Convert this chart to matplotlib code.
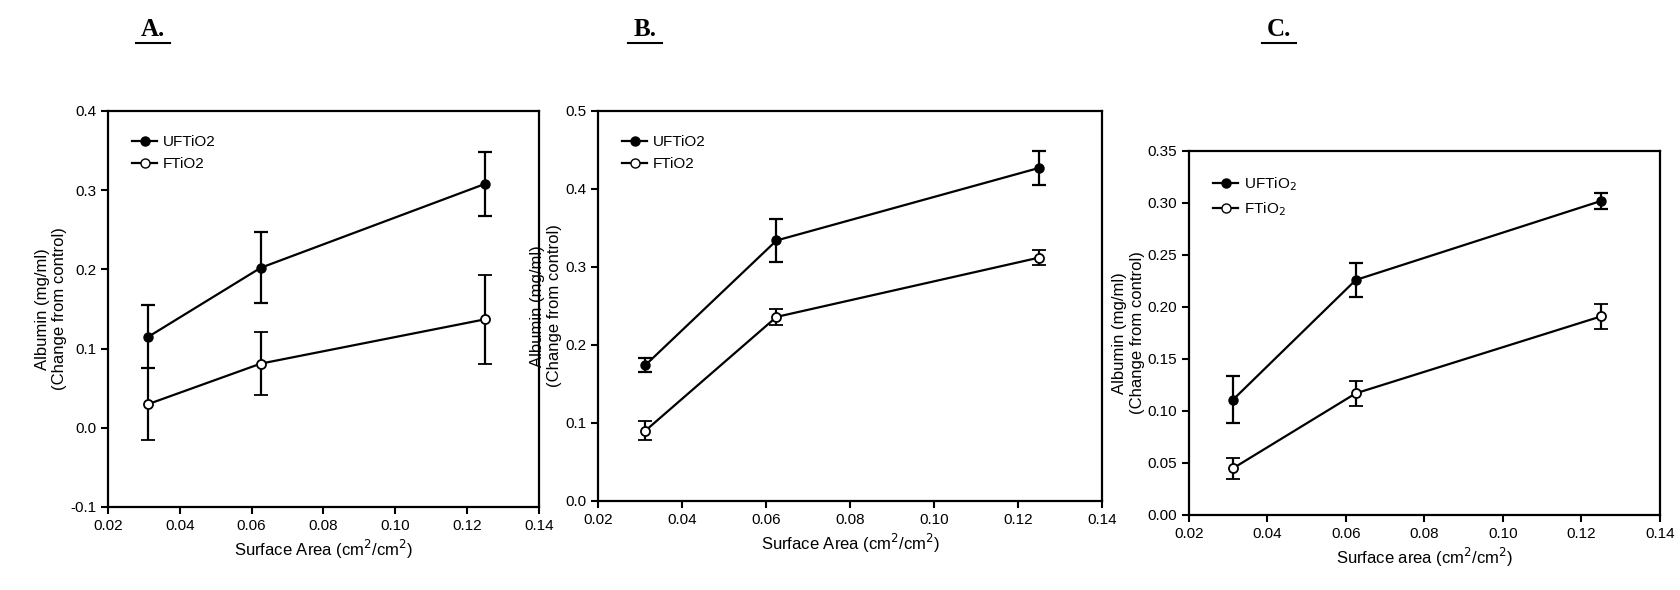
import matplotlib
matplotlib.use("Agg")
import matplotlib.pyplot as plt
from matplotlib.lines import Line2D

plt.rcParams['font.family'] = ['Liberation Sans Narrow', 'Liberation Sans', 'DejaVu Sans']

x = [0.03125, 0.0625, 0.125]
a_uf = [0.115, 0.202, 0.308]; a_uf_err = [0.040, 0.045, 0.040]
a_f = [0.030, 0.081, 0.137]; a_f_err = [0.046, 0.040, 0.056]
b_uf = [0.174, 0.334, 0.427]; b_uf_err = [0.009, 0.028, 0.022]
b_f = [0.090, 0.236, 0.312]; b_f_err = [0.012, 0.010, 0.010]
c_uf = [0.111, 0.226, 0.302]; c_uf_err = [0.023, 0.016, 0.008]
c_f = [0.045, 0.117, 0.191]; c_f_err = [0.010, 0.012, 0.012]

W, H = 1681, 590
fig = plt.figure(figsize=(W/100, H/100), dpi=100)

def ax_at(x0, y0, x1, y1):
    return fig.add_axes([x0/W, 1-y1/H, (x1-x0)/W, (y1-y0)/H])

panels = [
    dict(box=(108, 111, 539, 507), uf=a_uf, ufe=a_uf_err, f=a_f, fe=a_f_err,
         ylim=(-0.1, 0.4), yt=[-0.1, 0, 0.1, 0.2, 0.3, 0.4], yfmt='%.1f',
         labs=['UFTiO2', 'FTiO2'], xl='Surface Area (cm$^2$/cm$^2$)', title='A.', tx=153),
    dict(box=(598, 111, 1102, 501), uf=b_uf, ufe=b_uf_err, f=b_f, fe=b_f_err,
         ylim=(0, 0.5), yt=[0, 0.1, 0.2, 0.3, 0.4, 0.5], yfmt='%.1f',
         labs=['UFTiO2', 'FTiO2'], xl='Surface Area (cm$^2$/cm$^2$)', title='B.', tx=645),
    dict(box=(1189, 151, 1660, 515), uf=c_uf, ufe=c_uf_err, f=c_f, fe=c_f_err,
         ylim=(0, 0.35), yt=[0, 0.05, 0.1, 0.15, 0.2, 0.25, 0.3, 0.35], yfmt='%.2f',
         labs=['UFTiO$_2$', 'FTiO$_2$'], xl='Surface area (cm$^2$/cm$^2$)', title='C.', tx=1279),
]

for p in panels:
    ax = ax_at(*p['box'])
    ax.errorbar(x, p['uf'], yerr=p['ufe'], color='black', marker='o', ms=6.5,
                mfc='black', lw=1.6, capsize=5, elinewidth=1.6, capthick=1.6)
    ax.errorbar(x, p['f'], yerr=p['fe'], color='black', marker='o', ms=6.5,
                mfc='white', mew=1.3, lw=1.6, capsize=5, elinewidth=1.6, capthick=1.6)
    ax.set_xlim(0.02, 0.14)
    ax.set_ylim(*p['ylim'])
    ax.set_xticks([0.02, 0.04, 0.06, 0.08, 0.10, 0.12, 0.14])
    ax.set_xticklabels(['%.2f' % v for v in [0.02, 0.04, 0.06, 0.08, 0.10, 0.12, 0.14]])
    ax.set_yticks(p['yt'])
    ax.set_yticklabels([p['yfmt'] % v for v in p['yt']])
    ax.tick_params(direction='out', length=5, width=1.5, labelsize=11)
    for s in ax.spines.values():
        s.set_linewidth(1.6)
    ax.set_xlabel(p['xl'], fontsize=12)
    ax.set_ylabel('Albumin (mg/ml)\n(Change from control)', fontsize=12, labelpad=2)
    handles = [Line2D([], [], color='black', marker='o', mfc='black', lw=1.6, ms=6.5),
               Line2D([], [], color='black', marker='o', mfc='white', lw=1.6, ms=6.5)]
    ax.legend(handles, p['labs'], loc='upper left', frameon=False, fontsize=11,
              handlelength=1.6, handletextpad=0.4, borderaxespad=1.2)
    fig.text(p['tx']/W, 1-30/H, p['title'], family=['Liberation Serif', 'DejaVu Serif'],
             fontsize=18, fontweight='bold', ha='center', va='center')
    fig.add_artist(Line2D([(p['tx']-17)/W, (p['tx']+17)/W], [1-43/H, 1-43/H],
                          color='black', lw=1.5))

fig.savefig('out.png', dpi=100)
